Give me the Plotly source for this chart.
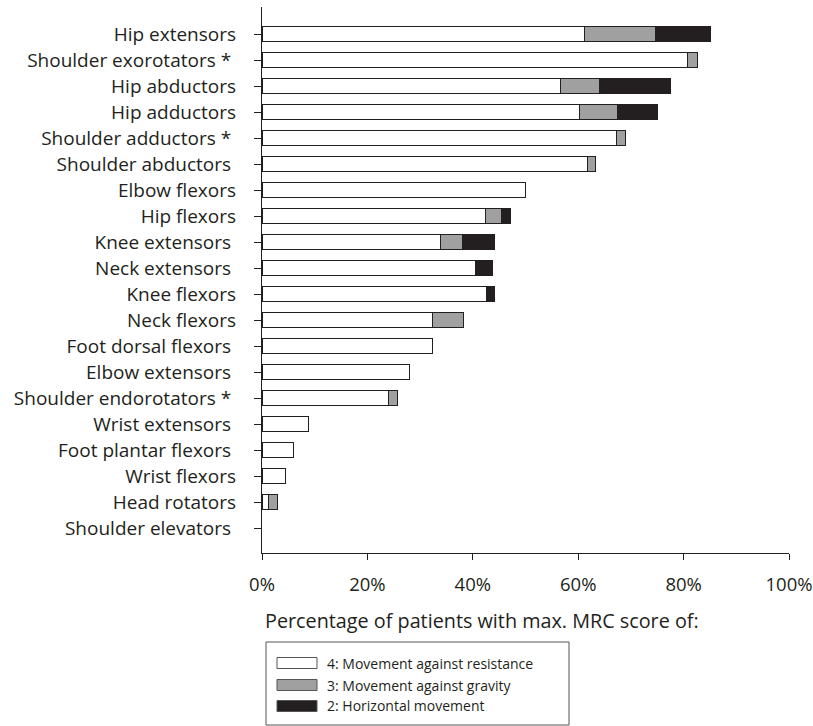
import plotly.graph_objects as go

categories = [
    "Hip extensors", "Shoulder exorotators *", "Hip abductors", "Hip adductors",
    "Shoulder adductors *", "Shoulder abductors", "Elbow flexors", "Hip flexors",
    "Knee extensors", "Neck extensors", "Knee flexors", "Neck flexors",
    "Foot dorsal flexors", "Elbow extensors", "Shoulder endorotators *",
    "Wrist extensors", "Foot plantar flexors", "Wrist flexors", "Head rotators",
    "Shoulder elevators",
]
# labels drawn with a trailing space in the original
trailing_space = {
    "Shoulder exorotators *", "Shoulder adductors *", "Shoulder abductors",
    "Knee extensors", "Neck extensors", "Foot dorsal flexors", "Elbow extensors",
    "Shoulder endorotators *", "Wrist extensors", "Foot plantar flexors",
    "Shoulder elevators",
}
score4 = [61.1, 80.8, 56.6, 60.2, 67.2, 61.7, 50.0, 42.5, 33.8, 40.6,
          42.6, 32.3, 32.4, 28.0, 24.0, 8.8, 5.9, 4.4, 1.3, 0]
score3 = [13.5, 1.9, 7.5, 7.3, 1.7, 1.5, 0, 3.0, 4.3, 0,
          0, 5.9, 0, 0, 1.8, 0, 0, 0, 1.6, 0]
score2 = [10.5, 0, 13.5, 7.5, 0, 0, 0, 1.6, 6.0, 3.2,
          1.5, 0, 0, 0, 0, 0, 0, 0, 0, 0]
series_names = ["4: Movement against resistance", "3: Movement against gravity", "2: Horizontal movement"]
colors = ["#ffffff", "#a0a0a0", "#231f20"]
x_ticks = [0, 20, 40, 60, 80, 100]
x_tick_labels = ["0%", "20%", "40%", "60%", "80%", "100%"]

W, H = 813, 726
L = 262
R = W - 789
T = 7
B = H - 553
FONT = "Open Sans"
INK = "#231f20"

fig = go.Figure()
for name, vals, col in zip(series_names, [score4, score3, score2], colors):
    fig.add_trace(go.Bar(
        y=categories, x=[v if v else None for v in vals], orientation="h", name=name,
        marker=dict(color=col, line=dict(color=INK, width=1)),
        width=0.6, showlegend=False,
    ))

ticktext = [c + ("\u00a0" if c in trailing_space else "") for c in categories]

fig.update_layout(
    width=W, height=H,
    margin=dict(l=L, r=R, t=T, b=B, autoexpand=False),
    barmode="stack",
    plot_bgcolor="white", paper_bgcolor="white",
    font=dict(family=FONT, size=19, color=INK),
    xaxis=dict(
        range=[0, 100], tickvals=x_ticks, ticktext=x_tick_labels,
        showgrid=False, zeroline=False, showline=True, linecolor=INK, linewidth=1.3,
        ticks="outside", ticklen=6, tickcolor=INK, tickwidth=1.3,
        ticklabelstandoff=9, ticklabeloverflow="allow",
        tickfont=dict(size=18.5),
    ),
    yaxis=dict(
        categoryorder="array", categoryarray=categories,
        tickvals=categories, ticktext=ticktext,
        range=[19.96, -1.04], autorange=False,
        showgrid=False, zeroline=False, showline=True, linecolor=INK, linewidth=1.3,
        ticks="outside", ticklen=7, tickcolor=INK, tickwidth=1.3,
        ticklabelstandoff=14,
        tickfont=dict(size=19),
    ),
)

pw = W - L - R
ph = H - T - B


def px_x(x):
    return (x - L) / pw


def px_y(y):
    return (H - B - y) / ph


# axis title
fig.add_annotation(
    text="Percentage of patients with max. MRC score of:",
    xref="paper", yref="paper", x=px_x(263), y=px_y(620),
    xanchor="left", yanchor="middle", showarrow=False,
    font=dict(size=19.8, color=INK),
)

# legend box
fig.add_shape(type="rect", xref="paper", yref="paper",
              x0=px_x(266), x1=px_x(569), y0=px_y(642), y1=px_y(725),
              line=dict(color="#555555", width=1), fillcolor="white")
item_y = [663, 685, 706]
for name, col, yc in zip(series_names, colors, item_y):
    fig.add_shape(type="rect", xref="paper", yref="paper",
                  x0=px_x(277), x1=px_x(317), y0=px_y(yc - 5.5), y1=px_y(yc + 5.5),
                  line=dict(color="#555555", width=1), fillcolor=col)
    fig.add_annotation(text=name, xref="paper", yref="paper",
                       x=px_x(325), y=px_y(yc), xanchor="left", yanchor="middle",
                       showarrow=False, font=dict(size=14, color=INK))

fig.write_html(
    "out.html",
    config={"displayModeBar": False},
    post_script="document.body.style.margin='0';document.body.style.overflow='hidden';",
)
